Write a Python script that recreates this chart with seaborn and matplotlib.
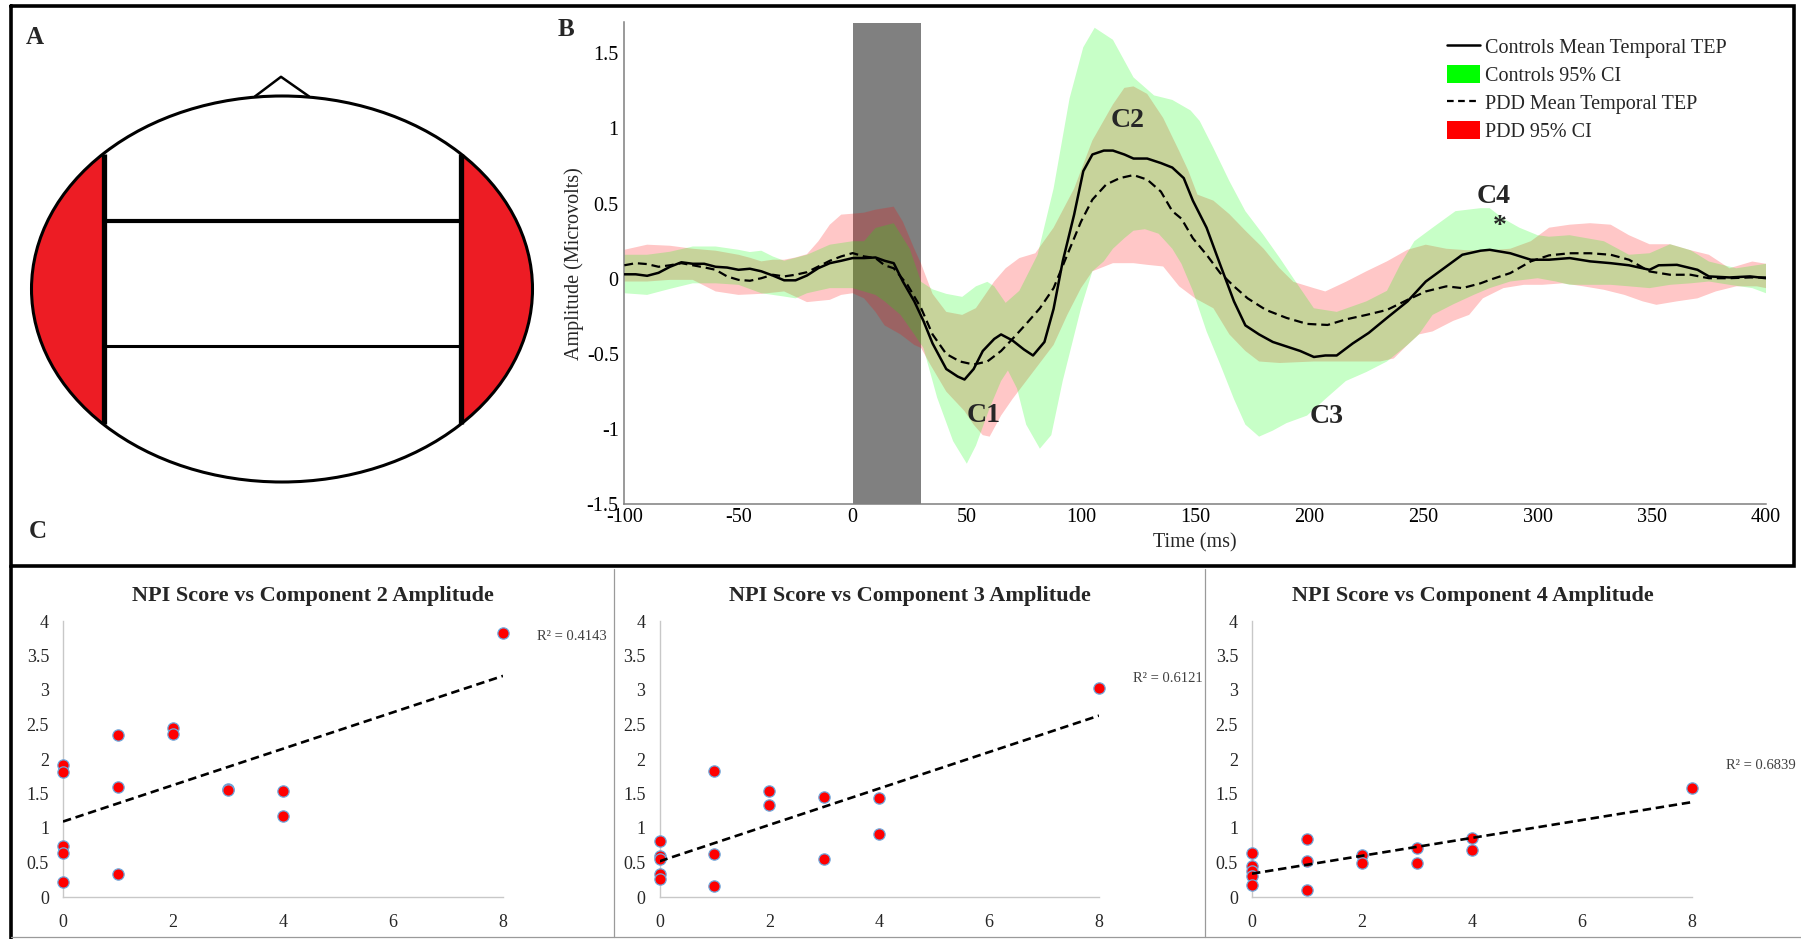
import numpy as np
import matplotlib
matplotlib.use("Agg")
import matplotlib.pyplot as plt
import seaborn as sns
from matplotlib.patches import Ellipse, Polygon, Patch
from matplotlib.lines import Line2D
from matplotlib.ticker import FuncFormatter

sns.set_theme(style="white")
plt.rcParams["font.family"] = ["Liberation Serif", "DejaVu Serif"]
plt.rcParams["axes.unicode_minus"] = False

# ---------------- Panel B: mean temporal TEPs (microvolts) ----------------
t_ctrl = [-100, -95, -90, -85, -80, -75, -70, -65, -60, -55, -50, -45, -40, -35, -30, -25,
          -20, -15, -10, -5, 0, 5, 10, 14, 18, 22, 27, 31, 35, 41, 46, 49, 53, 57, 62, 65,
          70, 75, 79, 84, 88, 92, 97, 101, 105, 110, 114, 119, 123, 129, 135, 140, 145,
          149, 155, 161, 167, 172, 178, 184, 190, 196, 202, 207, 212, 219, 226, 234, 243,
          251, 260, 267, 275, 279, 288, 297, 305, 314, 323, 332, 340, 349, 353, 361, 370,
          375, 384, 393, 400]
v_ctrl = [0.03, 0.03, 0.02, 0.04, 0.08, 0.11, 0.10, 0.10, 0.08, 0.075, 0.06, 0.067, 0.05,
          0.022, -0.01, -0.01, 0.022, 0.071, 0.104, 0.12, 0.138, 0.138, 0.142, 0.12, 0.104,
          -0.018, -0.15, -0.28, -0.43, -0.60, -0.65, -0.67, -0.60, -0.48, -0.40, -0.37,
          -0.41, -0.47, -0.51, -0.42, -0.20, 0.116, 0.427, 0.716, 0.827, 0.853, 0.853,
          0.827, 0.80, 0.80, 0.77, 0.74, 0.67, 0.52, 0.34, 0.093, -0.15, -0.31, -0.37,
          -0.42, -0.45, -0.48, -0.52, -0.51, -0.51, -0.43, -0.36, -0.26, -0.15, -0.018,
          0.082, 0.16, 0.187, 0.193, 0.17, 0.127, 0.127, 0.138, 0.116, 0.104, 0.09, 0.06,
          0.09, 0.093, 0.06, 0.016, 0.009, 0.016, 0.004]

t_pdd = [-100, -95, -90, -85, -80, -75, -70, -65, -60, -55, -50, -45, -40, -35, -30, -25,
         -20, -15, -10, -5, 0, 5, 10, 14, 18, 24, 30, 35, 41, 47, 53, 59, 65, 70, 76, 82,
         88, 94, 100, 105, 111, 117, 123, 129, 135, 140, 144, 149, 155, 161, 167, 173, 181,
         190, 199, 208, 216, 225, 234, 243, 251, 260, 267, 275, 279, 288, 297, 305, 314,
         323, 332, 340, 349, 358, 367, 375, 384, 393, 400]
v_pdd = [0.09, 0.104, 0.098, 0.08, 0.09, 0.104, 0.09, 0.076, 0.06, 0.016, -0.007, -0.013,
         0.004, 0.027, 0.016, 0.027, 0.044, 0.082, 0.12, 0.149, 0.171, 0.149, 0.138, 0.09,
         0.07, -0.04, -0.196, -0.37, -0.50, -0.55, -0.57, -0.55, -0.48, -0.40, -0.30,
         -0.196, -0.062, 0.16, 0.38, 0.527, 0.627, 0.67, 0.69, 0.66, 0.58, 0.45, 0.40, 0.27,
         0.16, 0.038, -0.05, -0.13, -0.207, -0.26, -0.30, -0.307, -0.27, -0.24, -0.207,
         -0.14, -0.084, -0.05, -0.062, -0.03, -0.007, 0.038, 0.116, 0.156, 0.17, 0.17, 0.16,
         0.127, 0.049, 0.027, 0.027, 0.004, 0.004, 0.009, 0.009]

# 95% confidence bounds, controls
t_ctrl_hi = [-100, -90, -80, -70, -60, -50, -45, -40, -35, -30, -20, -10, 0, 5, 10, 18, 25,
             30, 35, 41, 48, 54, 59, 62, 67, 73, 81, 88, 95, 101, 106, 114, 123, 132, 140,
             148, 152, 158, 165, 172, 180, 187, 193, 202, 212, 225, 234, 240, 246, 254, 264,
             275, 279, 285, 292, 300, 305, 314, 329, 340, 349, 358, 367, 375, 387, 400]
v_ctrl_hi = [0.16, 0.16, 0.18, 0.215, 0.215, 0.193, 0.178, 0.187, 0.149, 0.12, 0.16, 0.227,
             0.25, 0.25, 0.338, 0.37, 0.20, -0.02, -0.07, -0.10, -0.12, -0.05, -0.02, -0.05,
             -0.16, -0.08, 0.16, 0.60, 1.20, 1.54, 1.67, 1.59, 1.34, 1.22, 1.19, 1.12, 1.05,
             0.87, 0.65, 0.45, 0.29, 0.14, 0.004, -0.196, -0.22, -0.15, -0.08, 0.10, 0.25,
             0.34, 0.45, 0.47, 0.47, 0.40, 0.34, 0.29, 0.28, 0.29, 0.25, 0.16, 0.17, 0.23,
             0.19, 0.115, 0.07, 0.10]
t_ctrl_lo = [-100, -90, -80, -70, -60, -50, -40, -30, -25, -20, -10, 0, 10, 14, 21, 27, 31,
             37, 44, 50, 54, 60, 65, 68, 72, 76, 82, 87, 92, 100, 105, 110, 114, 119, 123,
             128, 134, 140, 144, 149, 155, 161, 167, 172, 178, 184, 190, 199, 207, 216, 225,
             234, 243, 248, 254, 263, 272, 279, 288, 300, 308, 314, 323, 332, 340, 349, 358,
             367, 375, 384, 394, 400]
v_ctrl_lo = [-0.096, -0.107, -0.067, -0.03, -0.03, -0.04, -0.096, -0.118, -0.13, -0.096,
             -0.062, -0.062, -0.107, -0.15, -0.24, -0.37, -0.46, -0.79, -1.08, -1.23, -1.11,
             -0.86, -0.68, -0.61, -0.73, -0.97, -1.13, -1.04, -0.68, -0.196, 0.05, 0.116,
             0.20, 0.27, 0.32, 0.33, 0.30, 0.20, 0.10, -0.08, -0.35, -0.57, -0.80, -0.97,
             -1.05, -1.01, -0.96, -0.91, -0.80, -0.68, -0.62, -0.55, -0.44, -0.37, -0.24,
             -0.17, -0.107, -0.062, -0.018, 0.004, -0.018, -0.04, -0.04, -0.04, -0.05, -0.062,
             -0.04, -0.03, -0.018, -0.04, -0.062, -0.096]

# 95% confidence bounds, PDD
t_pdd_hi = [-100, -90, -80, -70, -60, -50, -45, -40, -35, -30, -25, -20, -15, -10, -5, 0, 5,
            10, 18, 22, 27, 30, 35, 41, 48, 54, 58, 62, 67, 73, 80, 88, 97, 105, 114, 119,
            123, 129, 136, 143, 147, 151, 158, 165, 172, 180, 187, 193, 202, 207, 216, 225,
            234, 243, 251, 260, 269, 279, 288, 297, 305, 314, 323, 332, 340, 349, 358, 367,
            375, 384, 394, 400]
v_pdd_hi = [0.193, 0.227, 0.22, 0.20, 0.187, 0.16, 0.14, 0.116, 0.127, 0.127, 0.142, 0.164,
            0.25, 0.36, 0.427, 0.433, 0.44, 0.46, 0.48, 0.38, 0.20, 0.10, -0.10, -0.22, -0.24,
            -0.195, -0.107, -0.018, 0.07, 0.138, 0.17, 0.34, 0.60, 0.92, 1.16, 1.27, 1.28,
            1.23, 1.07, 0.85, 0.72, 0.56, 0.52, 0.43, 0.32, 0.20, 0.07, -0.02, -0.062,
            -0.084, -0.02, 0.05, 0.116, 0.193, 0.227, 0.20, 0.19, 0.19, 0.20, 0.25, 0.34,
            0.36, 0.37, 0.36, 0.29, 0.23, 0.23, 0.19, 0.16, 0.07, 0.115, 0.10]
t_pdd_lo = [-100, -90, -80, -70, -60, -50, -40, -30, -20, -10, -5, 0, 5, 10, 14, 21, 27, 30,
            34, 41, 49, 53, 57, 60, 65, 70, 76, 82, 88, 94, 100, 105, 114, 123, 129, 136, 143,
            150, 158, 165, 172, 178, 187, 202, 216, 231, 237, 243, 248, 254, 263, 270, 276,
            285, 294, 302, 311, 320, 329, 338, 346, 352, 361, 370, 378, 387, 396, 400]
v_pdd_lo = [-0.018, -0.018, -0.007, -0.007, -0.084, -0.107, -0.10, -0.084, -0.155, -0.14,
            -0.107, -0.096, -0.13, -0.22, -0.31, -0.37, -0.44, -0.46, -0.57, -0.75, -0.88,
            -0.97, -1.04, -1.05, -0.91, -0.80, -0.68, -0.56, -0.44, -0.24, -0.062, 0.05,
            0.104, 0.104, 0.093, 0.082, -0.05, -0.13, -0.196, -0.37, -0.48, -0.55, -0.56,
            -0.55, -0.55, -0.55, -0.53, -0.44, -0.37, -0.35, -0.28, -0.24, -0.13, -0.062,
            -0.04, -0.04, -0.03, -0.05, -0.073, -0.107, -0.15, -0.173, -0.15, -0.13, -0.084,
            -0.05, -0.05, -0.062]

stim_window = (0, 30)
legend_labels = ["Controls Mean Temporal TEP", "Controls 95% CI",
                 "PDD Mean Temporal TEP", "PDD 95% CI"]
component_labels = ["C1", "C2", "C3", "C4"]
component_pos = [(57.5, -0.91), (120.5, 1.05), (207.6, -0.915), (280.5, 0.545)]
b_xticks = [-100, -50, 0, 50, 100, 150, 200, 250, 300, 350, 400]
b_yticks = [-1.5, -1, -0.5, 0, 0.5, 1, 1.5]

# ---------------- Panel C: NPI score vs component amplitude ----------------
npi_score = [0, 0, 0, 0, 0, 1, 1, 1, 2, 2, 3, 3, 4, 4, 8]
amp_c2 = [1.906, 1.81, 0.735, 0.638, 0.213, 2.346, 1.60, 0.334, 2.447, 2.365, 1.57, 1.555,
          1.543, 1.17, 3.82]
amp_c3 = [0.814, 0.596, 0.557, 0.339, 0.257, 1.821, 0.62, 0.155, 1.54, 1.332, 1.443, 0.557,
          1.433, 0.92, 3.03]
amp_c4 = [0.642, 0.452, 0.379, 0.306, 0.175, 0.84, 0.525, 0.107, 0.603, 0.486, 0.71, 0.496,
          0.85, 0.68, 1.575]
c_titles = ["NPI Score vs Component 2 Amplitude", "NPI Score vs Component 3 Amplitude",
            "NPI Score vs Component 4 Amplitude"]
r_squared = ["0.4143", "0.6121", "0.6839"]
c_xticks = [0, 2, 4, 6, 8]
c_yticks = [0, 0.5, 1, 1.5, 2, 2.5, 3, 3.5, 4]

# ---------------- figure ----------------
W, H = 1801, 939
fig = plt.figure(figsize=(W / 100, H / 100), dpi=100)


def fbox(left, top, right, bottom):
    """Axes rectangle in figure fractions from pixel edges (origin top-left)."""
    return [left / W, 1 - bottom / H, (right - left) / W, (bottom - top) / H]


# frame / head-schematic layer
ax0 = fig.add_axes([0, 0, 1, 1])
ax0.set_xlim(0, W)
ax0.set_ylim(H, 0)
ax0.axis("off")

# outer borders
ax0.plot([11, 1794, 1794, 11, 11], [6, 6, 566, 566, 6], color="black", lw=2.6,
         solid_joinstyle="miter")
ax0.plot([11, 11], [566, 939], color="black", lw=2.6)
for xs in (613.6, 1204.8):
    ax0.plot([xs, xs], [569, 937], color="#9a9a9a", lw=0.9)
ax0.plot([11, 1801], [937, 937], color="#9a9a9a", lw=0.9)

# head schematic with temporal regions
cx, cy, ra, rb = 282, 289, 250.5, 193
xl, xr = 103.6, 460.6
th_l = np.arccos((xl - cx) / ra)
th_r = np.arccos((xr - cx) / ra)
ang = np.linspace(th_l, 2 * np.pi - th_l, 120)
ax0.add_patch(Polygon(np.c_[cx + ra * np.cos(ang), cy + rb * np.sin(ang)],
                      closed=True, facecolor="#ed1c24", edgecolor="none"))
ang = np.linspace(-th_r, th_r, 120)
ax0.add_patch(Polygon(np.c_[cx + ra * np.cos(ang), cy + rb * np.sin(ang)],
                      closed=True, facecolor="#ed1c24", edgecolor="none"))
ax0.add_patch(Ellipse((cx, cy), 2 * ra, 2 * rb, facecolor="none", edgecolor="black", lw=2.2))
y_top = cy - rb * np.sin(th_l)
y_bot = cy + rb * np.sin(th_l)
ax0.plot([xl, xl], [y_top, y_bot], color="black", lw=3.8, solid_capstyle="butt")
ax0.plot([xr, xr], [y_top, y_bot], color="black", lw=3.8, solid_capstyle="butt")
ax0.plot([xl, xr], [221.4, 221.4], color="black", lw=3.0)
ax0.plot([xl, xr], [346.4, 346.4], color="black", lw=2.2)
ax0.plot([255, 281, 309], [96.4, 76.8, 96.4], color="black", lw=1.8)

for letter, (px, py) in zip("ABC", [(35, 37), (566, 30), (38, 531)]):
    ax0.text(px, py, letter, fontsize=18, fontweight="bold", ha="center", va="center")

# ---------------- Panel B ----------------
axb = fig.add_axes(fbox(624.3, 22.5, 1766, 504.3))
axb.axvspan(*stim_window, color="#808080", lw=0, zorder=0)
axb.fill(np.r_[t_pdd_hi, t_pdd_lo[::-1]], np.r_[v_pdd_hi, v_pdd_lo[::-1]],
         color=(1, 0, 0), alpha=0.22, lw=0, zorder=1)
axb.fill(np.r_[t_ctrl_hi, t_ctrl_lo[::-1]], np.r_[v_ctrl_hi, v_ctrl_lo[::-1]],
         color=(0, 1, 0), alpha=0.22, lw=0, zorder=2)
sns.lineplot(x=t_ctrl, y=v_ctrl, ax=axb, color="black", lw=1.8, zorder=4)
sns.lineplot(x=t_pdd, y=v_pdd, ax=axb, color="black", lw=1.6, zorder=4,
             linestyle=(0, (4, 2.2)))
axb.set_xlim(-100, 400)
axb.set_ylim(-1.5, 1.705)
axb.set_xticks(b_xticks)
axb.set_yticks(b_yticks)
fmt = FuncFormatter(lambda v, p: f"{v:g}")
axb.xaxis.set_major_formatter(fmt)
axb.yaxis.set_major_formatter(fmt)
for side in ("top", "right"):
    axb.spines[side].set_visible(False)
for side in ("left", "bottom"):
    axb.spines[side].set_color("#7f7f7f")
    axb.spines[side].set_linewidth(1.1)
axb.tick_params(axis="both", direction="in", length=7, width=0.9, color="#555555",
                labelsize=14.5, labelcolor="black")
axb.tick_params(axis="y", pad=4)
axb.tick_params(axis="x", pad=3)
axb.set_xlabel("Time (ms)", fontsize=14.5, labelpad=4)
axb.set_ylabel("Amplitude (Microvolts)", fontsize=14.5, labelpad=2)
for lab, (tx, ty) in zip(component_labels, component_pos):
    axb.text(tx, ty, lab, fontsize=20, fontweight="bold", ha="center", va="center", zorder=6)
axb.text(283.5, 0.35, "*", fontsize=20, fontweight="bold", ha="center", va="center", zorder=6)

handles = [Line2D([], [], color="black", lw=1.8),
           Patch(facecolor=(0, 1, 0), edgecolor="none"),
           Line2D([], [], color="black", lw=1.6, linestyle=(0, (3, 2))),
           Patch(facecolor=(1, 0, 0), edgecolor="none")]
fig.legend(handles, legend_labels, loc="upper left", bbox_to_anchor=(1447 / W, 1 - 37 / H),
           frameon=False, fontsize=14.5, handlelength=1.65, handleheight=1.0,
           handletextpad=0.25, labelspacing=0.35, borderpad=0, borderaxespad=0)

# ---------------- Panel C ----------------
c_boxes = [fbox(63, 621, 503, 897), fbox(659.5, 621, 1099, 897), fbox(1252, 621, 1691.5, 897)]
title_x = [313, 910, 1473]
r2_pos = [(1.078, 0.943), (1.078, 0.793), (1.078, 0.478)]
for box, amp, title, r2, tx, rp in zip(c_boxes, [amp_c2, amp_c3, amp_c4], c_titles,
                                        r_squared, title_x, r2_pos):
    ax = fig.add_axes(box)
    sns.regplot(x=npi_score, y=amp, ax=ax, ci=None, truncate=True, color="red",
                scatter_kws=dict(s=66, alpha=1, edgecolors="#6fa8dc", linewidths=0.9,
                                 clip_on=False, zorder=3),
                line_kws=dict(color="black", lw=1.9, linestyle=(0, (3.2, 1.8)), zorder=4))
    ax.set_xlim(0, 8)
    ax.set_ylim(0, 4)
    ax.set_xticks(c_xticks)
    ax.set_yticks(c_yticks)
    ax.xaxis.set_major_formatter(fmt)
    ax.yaxis.set_major_formatter(fmt)
    for side in ("top", "right"):
        ax.spines[side].set_visible(False)
    for side in ("left", "bottom"):
        ax.spines[side].set_color("#c8c8c8")
        ax.spines[side].set_linewidth(1.0)
    ax.tick_params(axis="both", direction="out", length=4, width=0.9, color="#c8c8c8",
                   labelsize=13, labelcolor="#262626")
    ax.tick_params(axis="y", pad=6)
    ax.tick_params(axis="x", pad=8)
    ax.set_xlabel("")
    ax.set_ylabel("")
    ax.patch.set_alpha(0)
    fig.text(tx / W, 1 - 596 / H, title, fontsize=16, fontweight="bold", ha="center",
             va="center")
    ax.text(rp[0], rp[1], f"R\u00b2 = {r2}", transform=ax.transAxes, fontsize=10.5,
            color="#404040", ha="left", va="center", clip_on=False)

fig.savefig("out.png", dpi=100)
